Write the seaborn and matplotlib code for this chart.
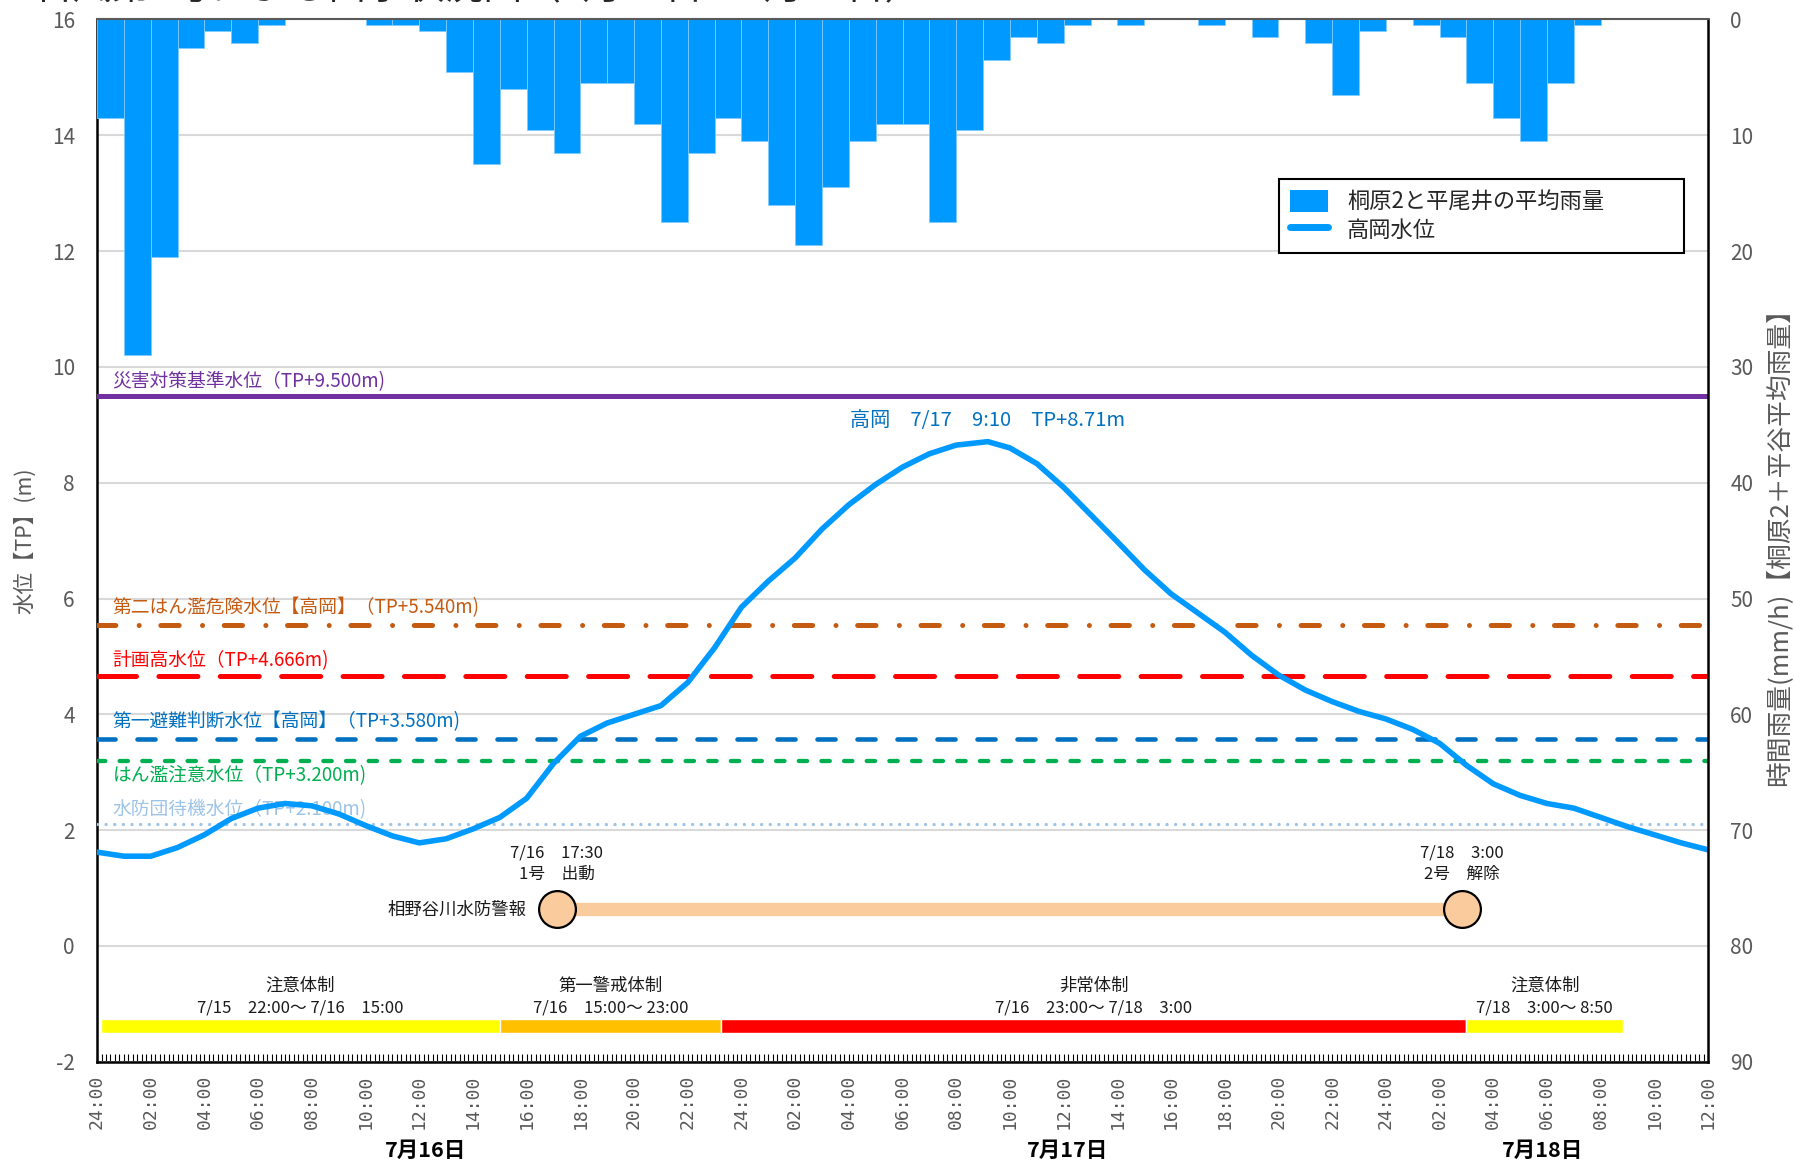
import numpy as np
import pandas as pd
import matplotlib
matplotlib.use("Agg")
import matplotlib.pyplot as plt
from matplotlib.patches import Patch
from matplotlib.lines import Line2D
import seaborn as sns

# --- データ（横軸は 7/16 0:00 からの経過時間 [h]） ---
title_text = "台風第7号による出水状況図（7月15日～7月18日）"

rain_hours = list(range(60))
rain_mm = [8.5, 29.0, 20.5, 2.5, 1.0, 2.0, 0.5, 0, 0, 0,
           0.5, 0.5, 1.0, 4.5, 12.5, 6.0, 9.5, 11.5, 5.5, 5.5,
           9.0, 17.5, 11.5, 8.5, 10.5, 16.0, 19.5, 14.5, 10.5, 9.0,
           9.0, 17.5, 9.5, 3.5, 1.5, 2.0, 0.5, 0, 0.5, 0,
           0, 0.5, 0, 1.5, 0, 2.0, 6.5, 1.0, 0, 0.5,
           1.5, 5.5, 8.5, 10.5, 5.5, 0.5, 0, 0, 0, 0]

level_hours = [0, 1, 2, 3, 4, 5, 6, 7, 8, 9,
               10, 11, 12, 13, 14, 15, 16, 17, 18, 19,
               20, 21, 22, 23, 24, 25, 26, 27, 28, 29,
               30, 31, 32, 33, 33.17, 34, 35, 36, 37, 38, 39,
               40, 41, 42, 43, 44, 45, 46, 47, 48, 49,
               50, 51, 52, 53, 54, 55, 56, 57, 58, 59, 60]
level_m = [1.62, 1.55, 1.55, 1.70, 1.92, 2.20, 2.38, 2.46, 2.42, 2.28,
           2.08, 1.90, 1.78, 1.85, 2.02, 2.22, 2.55, 3.15, 3.62, 3.85,
           4.00, 4.15, 4.55, 5.15, 5.85, 6.30, 6.70, 7.20, 7.62, 7.97,
           8.27, 8.50, 8.65, 8.70, 8.71, 8.60, 8.33, 7.92, 7.45, 6.98, 6.50,
           6.08, 5.75, 5.42, 5.02, 4.68, 4.42, 4.22, 4.05, 3.92, 3.74,
           3.50, 3.12, 2.80, 2.60, 2.46, 2.38, 2.22, 2.06, 1.92, 1.78, 1.66]

peak_hour = 33.17
peak_level = 8.71
peak_text = "高岡　7/17　9:10　TP+8.71m"

thr_values = [9.5, 5.54, 4.666, 3.58, 3.2, 2.1]
thr_labels = ["災害対策基準水位（TP+9.500m)",
              "第二はん濫危険水位【高岡】（TP+5.540m)",
              "計画高水位（TP+4.666m)",
              "第一避難判断水位【高岡】（TP+3.580m)",
              "はん濫注意水位（TP+3.200m)",
              "水防団待機水位（TP+2.100m)"]

warn_name = "相野谷川水防警報"
warn_hours = [17.13, 50.84]
warn_top = ["7/16　17:30", "7/18　3:00"]
warn_bottom = ["1号　出動", "2号　解除"]

stage_names = ["注意体制", "第一警戒体制", "非常体制", "注意体制"]
stage_periods = ["7/15　22:00～ 7/16　15:00", "7/16　15:00～ 23:00",
                 "7/16　23:00～ 7/18　3:00", "7/18　3:00～ 8:50"]
stage_start = [0.15, 15.0, 23.25, 51.0]
stage_end = [15.0, 23.25, 51.0, 56.83]

xtick_hours = list(range(0, 61, 2))
xtick_labels = ["24:00", "02:00", "04:00", "06:00", "08:00", "10:00", "12:00",
                "14:00", "16:00", "18:00", "20:00", "22:00",
                "24:00", "02:00", "04:00", "06:00", "08:00", "10:00", "12:00",
                "14:00", "16:00", "18:00", "20:00", "22:00",
                "24:00", "02:00", "04:00", "06:00", "08:00", "10:00", "12:00"]
day_labels = ["7月16日", "7月17日", "7月18日"]
day_hours = [12.24, 36.14, 53.83]

# --- 見た目 ---
sns.set_theme(style="white")
plt.rcParams['font.family'] = ['Noto Sans CJK JP', 'DejaVu Sans']
plt.rcParams['lines.scale_dashes'] = False
plt.rcParams['axes.unicode_minus'] = False

rain_color = '#0099FF'
gray = '#595959'
thr_colors = ['#7030A0', '#C55A11', '#FF0000', '#0070C0', '#00B050', '#9DC3E6']
thr_styles = ['-', (0, (13.2, 16.8, 0.01, 15.6)), (0, (28.1, 16.1)),
              (0, (13.0, 15.8)), (0, (6.0, 10.3)), (0, (0.01, 6.2))]
thr_widths = [3.6, 3.6, 3.6, 3.3, 3.1, 2.4]
thr_label_offset = [0.24, 0.31, 0.27, 0.29, -0.25, 0.25]
stage_colors = ['#FFFF00', '#FFC000', '#FF0000', '#FFFF00']
warn_color = '#FACB9C'

warn_y = 0.63
stage_y = -1.38

fig = plt.figure(figsize=(17.94, 11.6), dpi=100)
ax = fig.add_axes([0.0541, 0.0847, 0.898, 0.8985])
ax2 = ax.twinx()

# 雨量（右軸、上から下へ）
ax2.bar(rain_hours, rain_mm, width=1.0, align='edge', color=rain_color,
        edgecolor='#7FCCFF', linewidth=0.6, zorder=2)
ax2.set_ylim(90, 0)
ax2.set_yticks(range(0, 91, 10))

# 水位
df_level = pd.DataFrame({'時刻': level_hours, '水位': level_m})
sns.lineplot(data=df_level, x='時刻', y='水位', ax=ax, color=rain_color,
             linewidth=4, zorder=6)

# 基準水位
for v, lab, c, ls, lw, off in zip(thr_values, thr_labels, thr_colors,
                                  thr_styles, thr_widths, thr_label_offset):
    ax.axhline(v, color=c, linestyle=ls, linewidth=lw, dash_capstyle='round',
               zorder=4)
    ax.text(0.58, v + off, lab, color=c, fontsize=13.5, ha='left',
            va='center', zorder=3)

ax.text(peak_hour, 9.07, peak_text, color='#0070C0', fontsize=14.5,
        ha='center', va='center')

# 水防警報
ax.plot(warn_hours, [warn_y] * len(warn_hours), color=warn_color,
        linewidth=9.6, solid_capstyle='butt', zorder=7)
ax.plot(warn_hours, [warn_y] * len(warn_hours), linestyle='none',
        marker='o', markersize=26.5, markerfacecolor=warn_color,
        markeredgecolor='black', markeredgewidth=1.6, zorder=8)
ax.text(warn_hours[0] - 1.12, warn_y, warn_name, fontsize=12.5,
        ha='right', va='center', color='#1a1a1a')
for h, t1, t2 in zip(warn_hours, warn_top, warn_bottom):
    ax.text(h, 1.60, t1, fontsize=12, ha='center', va='center', color='#1a1a1a')
    ax.text(h, 1.23, t2, fontsize=12, ha='center', va='center', color='#1a1a1a')

# 体制
ax.barh([stage_y] * len(stage_start),
        [e - s for s, e in zip(stage_start, stage_end)],
        left=stage_start, height=0.24, color=stage_colors, zorder=5)
for s, e, n, p in zip(stage_start, stage_end, stage_names, stage_periods):
    ax.text((s + e) / 2, -0.69, n, fontsize=12.5, ha='center', va='center',
            color='#1a1a1a')
    ax.text((s + e) / 2, -1.07, p, fontsize=12, ha='center', va='center',
            color='#1a1a1a')

# 軸
ax.set_xlim(0, 60)
ax.set_ylim(-2, 16)
ax.set_yticks(range(-2, 17, 2))
ax.set_xticks(xtick_hours)
ax.set_xticklabels(xtick_labels, rotation=90, fontfamily='DejaVu Sans Mono',
                   fontsize=13, color=gray)
ax.set_xticks(np.arange(0, 60.001, 1 / 6), minor=True)
ax.tick_params(axis='x', which='both', direction='in', length=6, width=0.8,
               color='black', bottom=True, pad=9)
ax.tick_params(axis='y', length=0, pad=16, labelsize=15, labelcolor=gray)
ax2.tick_params(axis='y', length=0, pad=16, labelsize=15, labelcolor=gray)
ax.grid(axis='y', color='#D9D9D9', linewidth=1.5)
ax.grid(axis='x', visible=False)
ax2.grid(False)

ax.set_xlabel('')
ax.set_ylabel('水位【TP】(m)', fontsize=15.5, color=gray)
ax.yaxis.set_label_coords(-0.038, 0.5)
ax2.set_ylabel('時間雨量(mm/h)【桐原2＋平谷平均雨量】', fontsize=18.5, color=gray)
ax2.yaxis.set_label_coords(1.036, 0.5)

for sp in ['left', 'bottom']:
    ax.spines[sp].set_color('black')
    ax.spines[sp].set_linewidth(1.8)
ax.spines['top'].set_visible(False)
ax.spines['right'].set_visible(False)
ax2.spines['left'].set_visible(False)
ax2.spines['bottom'].set_visible(False)
ax2.spines['right'].set_color('black')
ax2.spines['right'].set_linewidth(1.8)
ax2.spines['top'].set_color(gray)
ax2.spines['top'].set_linewidth(1.5)

for d, h in zip(day_labels, day_hours):
    ax.text(h, -0.0847, d, transform=ax.get_xaxis_transform(), fontsize=15.5,
            fontweight='bold', ha='center', va='center', color='black')

# 凡例
handles = [Patch(facecolor=rain_color, edgecolor='none'),
           Line2D([], [], color=rain_color, linewidth=5)]
leg = ax2.legend(handles, ['桐原2と平尾井の平均雨量', '高岡水位'],
                 loc='upper left', bbox_to_anchor=(0.7337, 0.774, 0.2513, 0.0734),
                 mode='expand', fontsize=16, frameon=True, fancybox=False,
                 edgecolor='black', framealpha=1, handlelength=1.7,
                 handleheight=1.2, handletextpad=0.85, labelspacing=0.2,
                 borderpad=0.5, borderaxespad=0)
leg.get_frame().set_linewidth(1.5)

# タイトル（参照図と同じく上端で切れている）
fig.text(0.019, 1.01, title_text, fontsize=28, ha='left', va='center')

fig.savefig('out.png', dpi=100)
